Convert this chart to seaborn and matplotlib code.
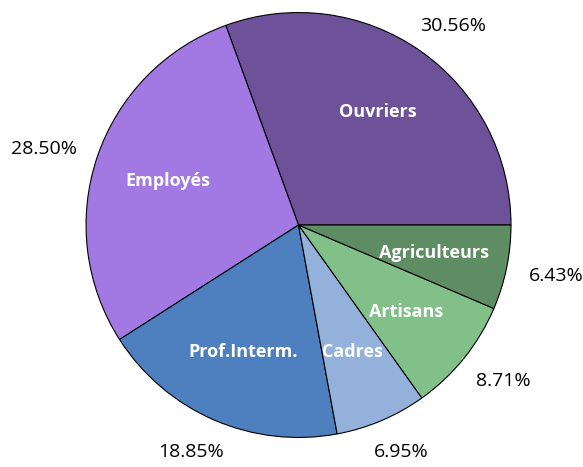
import numpy as np
import seaborn as sns
import matplotlib.pyplot as plt

categories = ['Ouvriers', 'Employés', 'Prof.Interm.', 'Cadres', 'Artisans', 'Agriculteurs']
shares = [30.56, 28.50, 18.85, 6.95, 8.71, 6.43]
colors = ['#6e5299', '#a279e2', '#4e80bf', '#93b1da', '#82c089', '#5e8c63']

sns.set_style('white')
plt.rcParams['font.family'] = ['Open Sans', 'DejaVu Sans']

fig = plt.figure(figsize=(5.83, 4.67), dpi=100)
ax = fig.add_axes([0, 0, 1, 1])

wedges, names = ax.pie(shares, labels=categories, colors=sns.color_palette(colors),
                       startangle=0, counterclock=True, labeldistance=0.65,
                       wedgeprops=dict(edgecolor='black', linewidth=0.8))
for t in names:
    t.set_ha('center')
    t.set_color('white')
    t.set_fontweight('bold')
    t.set_fontsize(13)

ax.set_aspect('auto')
ax.set_xlim(-1.405, 1.339)
ax.set_ylim(-1.139, 1.059)
ax.axis('off')

# percentages outside, box pushed away from the pie along the wedge direction
fig.canvas.draw()
renderer = fig.canvas.get_renderer()
for w, s in zip(wedges, shares):
    ang = np.deg2rad((w.theta1 + w.theta2) / 2)
    c, si = np.cos(ang), np.sin(ang)
    probe = ax.text(0, 0, f'{s:.2f}%', fontsize=14)
    bb = probe.get_window_extent(renderer)
    probe.remove()
    ax.annotate(f'{s:.2f}%', xy=(1.11 * c, 1.11 * si),
                xytext=(bb.width / 2 * c, bb.height / 2 * si), textcoords='offset pixels',
                ha='center', va='center_baseline', fontsize=14, color='black')

fig.savefig('out.png', dpi=100)
